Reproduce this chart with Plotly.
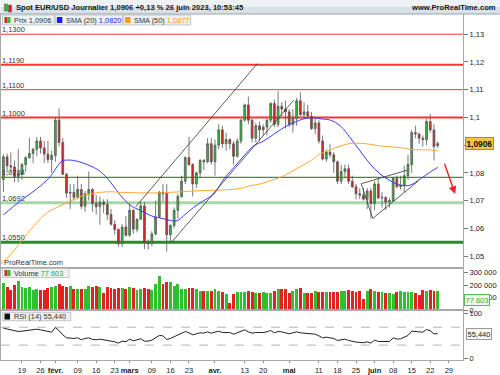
import pandas as pd
import plotly.graph_objects as go
from plotly.subplots import make_subplots

# ---------------- data ----------------
dates = [d.strftime('%Y-%m-%d') for d in pd.bdate_range('2023-01-12', '2023-06-26')]

opens = [1.0776,1.0858,1.0826,1.0821,1.0787,1.0795,1.0830,1.0855,1.0870,1.0885,1.0915,1.0890,1.0868,1.0848,
         1.0863,1.0990,1.0910,1.0795,1.0727,1.0730,1.0712,1.0740,1.0680,1.0725,1.0740,1.0690,1.0678,1.0694,
         1.0686,1.0650,1.0615,1.0596,1.0545,1.0605,1.0575,1.0665,1.0597,1.0633,1.0681,1.0548,1.0545,1.0580,
         1.0640,1.0730,1.0725,1.0577,1.0610,1.0665,1.0715,1.0770,1.0855,1.0830,1.0760,1.0800,1.0845,1.0840,
         1.0905,1.0840,1.0900,1.0955,1.0905,1.0920,1.0905,1.0860,1.0915,1.0990,1.1045,1.0990,1.0925,1.0970,
         1.0955,1.0965,1.0990,1.1050,1.0975,1.1040,1.1030,1.1020,1.0975,1.0995,1.1060,1.1010,1.1020,1.1005,
         1.0960,1.0980,1.0915,1.0850,1.0875,1.0865,1.0840,1.0770,1.0805,1.0815,1.0770,1.0750,1.0725,1.0720,
         1.0705,1.0735,1.0690,1.0760,1.0710,1.0712,1.0695,1.0700,1.0780,1.0750,1.0755,1.0790,1.0830,1.0945,
         1.0940,1.0925,1.0920,1.0985,1.0955,1.0898]
highs = [1.0867,1.0870,1.0874,1.0845,1.0887,1.0835,1.0860,1.0927,1.0890,1.0930,1.0930,1.0915,1.0915,1.0880,
         1.1000,1.1033,1.0925,1.0800,1.0760,1.0760,1.0790,1.0760,1.0735,1.0805,1.0745,1.0720,1.0715,1.0705,
         1.0705,1.0670,1.0630,1.0600,1.0615,1.0645,1.0690,1.0670,1.0635,1.0695,1.0695,1.0560,1.0590,1.0700,
         1.0735,1.0760,1.0760,1.0615,1.0675,1.0725,1.0790,1.0860,1.0930,1.0835,1.0805,1.0850,1.0850,1.0925,
         1.0925,1.0920,1.0975,1.0970,1.0945,1.0925,1.0915,1.0925,1.0995,1.1050,1.1075,1.0995,1.0980,1.0985,
         1.0975,1.0995,1.1055,1.1065,1.1095,1.1055,1.1060,1.1030,1.1030,1.1070,1.1090,1.1055,1.1045,1.1020,
         1.1000,1.0990,1.0935,1.0885,1.0905,1.0875,1.0845,1.0830,1.0830,1.0830,1.0790,1.0760,1.0745,1.0745,
         1.0745,1.0745,1.0770,1.0780,1.0730,1.0715,1.0710,1.0785,1.0790,1.0790,1.0825,1.0865,1.0955,1.0970,
         1.0945,1.0935,1.0995,1.1012,1.0975,1.0913]
lows = [1.0731,1.0800,1.0800,1.0766,1.0766,1.0775,1.0805,1.0850,1.0835,1.0860,1.0870,1.0835,1.0835,1.0800,
        1.0840,1.0895,1.0793,1.0710,1.0670,1.0700,1.0705,1.0670,1.0660,1.0700,1.0660,1.0650,1.0613,1.0655,
        1.0630,1.0610,1.0577,1.0535,1.0533,1.0570,1.0570,1.0580,1.0585,1.0630,1.0525,1.0524,1.0535,1.0575,
        1.0640,1.0695,1.0516,1.0550,1.0600,1.0635,1.0710,1.0760,1.0825,1.0715,1.0745,1.0785,1.0810,1.0835,
        1.0830,1.0790,1.0885,1.0890,1.0880,1.0885,1.0830,1.0855,1.0905,1.0985,1.0975,1.0910,1.0910,1.0915,
        1.0935,1.0935,1.0980,1.0965,1.0965,1.1005,1.0960,1.0965,1.0945,1.0970,1.1005,1.0995,1.0995,1.0955,
        1.0940,1.0905,1.0845,1.0840,1.0855,1.0800,1.0760,1.0760,1.0785,1.0760,1.0745,1.0705,1.0705,1.0700,
        1.0670,1.0635,1.0665,1.0705,1.0675,1.0665,1.0675,1.0695,1.0745,1.0740,1.0730,1.0775,1.0800,1.0925,
        1.0905,1.0895,1.0900,1.0945,1.0845,1.0890]
closes = [1.0858,1.0826,1.0821,1.0787,1.0795,1.0830,1.0855,1.0870,1.0885,1.0915,1.0890,1.0868,1.0848,1.0863,
          1.0990,1.0910,1.0795,1.0727,1.0730,1.0712,1.0740,1.0680,1.0725,1.0740,1.0690,1.0678,1.0694,1.0686,
          1.0650,1.0615,1.0596,1.0545,1.0605,1.0575,1.0665,1.0597,1.0633,1.0681,1.0548,1.0545,1.0580,1.0640,
          1.0730,1.0725,1.0577,1.0610,1.0665,1.0715,1.0770,1.0855,1.0830,1.0760,1.0800,1.0845,1.0840,1.0905,
          1.0840,1.0900,1.0955,1.0905,1.0920,1.0905,1.0860,1.0915,1.0990,1.1045,1.0990,1.0925,1.0970,1.0955,
          1.0965,1.0990,1.1050,1.0975,1.1040,1.1030,1.1020,1.0975,1.0995,1.1060,1.1010,1.1020,1.1005,1.0960,
          1.0980,1.0915,1.0850,1.0875,1.0865,1.0840,1.0770,1.0805,1.0815,1.0770,1.0750,1.0725,1.0720,1.0705,
          1.0735,1.0690,1.0760,1.0710,1.0712,1.0695,1.0700,1.0780,1.0750,1.0755,1.0790,1.0830,1.0945,1.0940,
          1.0925,1.0920,1.0985,1.0955,1.0895,1.0906]

volumes = [219500,192700,166000,209000,235500,192700,182000,187000,168600,174000,166000,166000,184700,187000,
           195000,211000,200000,187000,198000,174000,174000,174000,174000,195000,192700,195000,187000,141900,
           190000,184700,176700,184700,184700,174000,187000,179000,168600,171400,182000,176700,168600,214000,
           278300,214000,230000,230000,195000,214000,171400,176700,184700,182000,171400,160700,160700,155300,
           155300,174000,155300,152600,134000,61700,134000,147300,152600,147300,155300,152600,141900,141900,
           150000,141900,141900,155300,174000,174000,171400,141900,155300,176700,182000,144600,144600,144600,
           155300,147300,147300,147300,147300,147300,152600,158000,155300,166000,155300,147300,155300,93900,
           158000,171400,160700,150000,147300,139300,141900,136600,147300,155300,150000,147300,147300,139300,
           125900,166000,155300,166000,155300,155300,77603]

rsi = [67.8,66.3,64.1,61.9,60.4,61.1,62.6,63.3,64.8,65.6,64.1,61.9,59.6,58.9,69.3,62.6,53.0,46.3,45.6,44.8,
       46.3,41.9,44.8,46.3,42.6,41.9,43.3,41.9,40.4,38.9,37.4,34.4,38.9,37.4,43.3,39.6,41.1,44.1,38.9,38.9,
       41.1,45.6,51.5,50.7,42.6,44.8,48.5,52.2,55.9,60.4,57.4,53.0,55.2,57.4,56.7,59.6,56.7,58.9,61.1,58.1,
       58.9,58.1,54.4,57.4,61.1,64.1,59.6,56.7,58.1,57.4,58.1,59.6,62.6,57.4,60.4,59.6,58.1,55.2,57.4,59.6,
       57.4,56.7,55.9,53.7,54.4,50.7,46.3,47.8,47.0,44.8,40.4,42.6,43.3,40.4,38.1,36.7,35.9,35.2,37.4,34.4,
       41.1,38.1,38.1,37.4,38.1,46.3,43.3,44.1,47.8,51.5,61.1,61.1,59.6,58.9,64.8,61.9,55.2,55.44]

sma20_idx = [0,4.7,10.1,12.8,14.6,15.9,18.2,20.9,23.5,26.2,28.9,31.6,34.3,37,39.7,43.3,45.1,46.9,48.6,51.3,
             54,56.7,59.4,62.1,64.8,67.4,70.1,72.8,75.5,78.2,80.9,83.6,85.4,88.1,90.8,93.4,96.1,98.8,101.5,
             104.2,106.9,109.6,112.3,114.9,117]
sma20_val = [1.0649,1.0700,1.0754,1.0790,1.0825,1.0843,1.0846,1.0838,1.0825,1.0804,1.0766,1.0718,1.0682,1.0664,
             1.0646,1.0634,1.0628,1.0628,1.0646,1.0676,1.0700,1.0724,1.0778,1.0820,1.0861,1.0897,1.0915,1.0939,
             1.0963,1.0981,1.0995,1.0999,1.0995,1.0990,1.0969,1.0927,1.0879,1.0832,1.0796,1.0772,1.0756,1.0756,
             1.0778,1.0802,1.0820]
sma50_idx = [-0.65,2.5,4.7,8.3,11.9,15.5,18.2,20.9,23.5,26.2,28.9,31.6,37,42.4,47.7,53.1,58.5,63.9,66.6,69.2,
             71.9,74.6,77.3,80,82.7,85.4,88.1,90.8,93.4,96.1,98.8,101.5,104.2,106.9,109.6,112.3,114.9,117]
sma50_val = [1.0473,1.0513,1.0552,1.0610,1.0658,1.0682,1.0700,1.0716,1.0724,1.0730,1.0732,1.0730,1.0728,1.0728,
             1.0732,1.0736,1.0738,1.0744,1.0754,1.0760,1.0772,1.0784,1.0802,1.0823,1.0843,1.0869,1.0883,1.0897,
             1.0906,1.0907,1.0903,1.0897,1.0894,1.0891,1.0885,1.0883,1.0883,1.0879]

levels = [1.1300, 1.1190, 1.1100, 1.1000, 1.0784, 1.0692, 1.0550]
level_labels = ['1,1300', '1,1190', '1,1100', '1,1000', '1,0784', '1,0692', '1,0550']
level_colors = ['#ff3333', '#ff3333', '#ff3333', '#ff3333', '#2e9a2e', '#a6d8a6', '#2a8a2a']
level_widths = [1, 2, 1, 2, 1.3, 3, 3]

price_ticks = [1.05, 1.06, 1.07, 1.08, 1.09, 1.10, 1.11, 1.12, 1.13]
price_tick_text = ['1,05', '1,06', '1,07', '1,08', '1,09', '1,1', '1,11', '1,12', '1,13']
vol_ticks = [0, 100000, 200000, 300000]
vol_tick_text = ['0', '100 000', '200 000', '300 000']

tick_dates = ['2023-01-19', '2023-01-26', '2023-02-01', '2023-02-09', '2023-02-16', '2023-02-23',
              '2023-03-01', '2023-03-09', '2023-03-16', '2023-03-23', '2023-04-03', '2023-04-13',
              '2023-04-20', '2023-05-01', '2023-05-11', '2023-05-18', '2023-05-25', '2023-06-01',
              '2023-06-08', '2023-06-15', '2023-06-22', '2023-06-29']
tick_text = ['19', '26', '<b>févr.</b>', '09', '16', '23', '<b>mars</b>', '09', '16', '23', '<b>avr.</b>', '13',
             '20', '<b>mai</b>', '11', '18', '25', '<b>juin</b>', '08', '15', '22', '29']

# channel / wedge lines (bar index, price)
trendlines = [((35.6, 1.0677), (68.4, 1.1194)),
              ((45.5, 1.0553), (78.2, 1.1062)),
              ((96.4, 1.0761), (108.8, 1.0810)),
              ((96.4, 1.0761), (99.5, 1.0636)),
              ((99.5, 1.0636), (111.8, 1.0771))]
arrow_tail = (118.7, 1.0838)
arrow_head = (121.7, 1.0724)

# ---------------- helpers ----------------
W, H = 500, 375
ML, MR, MT, MB = 0, 37, 14, 13
PW, PH = W - ML - MR, H - MT - MB


def X(px):
    return (px - ML) / PW


def Y(py):
    return (H - MB - py) / PH


all_dates = list(pd.to_datetime(dates))


def date_index(d):
    t = pd.Timestamp(d)
    if t in all_dates:
        return all_dates.index(t)
    extra = len(pd.bdate_range(all_dates[-1], t)) - 1
    return len(dates) - 1 + extra


xi = list(range(len(dates)))
tickvals = [date_index(d) for d in tick_dates]

FONT = 'Liberation Sans'
GREEN, RED = '#2ec02e', '#e02222'

fig = make_subplots(rows=3, cols=1, shared_xaxes=True, vertical_spacing=0)

lbl_x = [-0.4] * len(levels)
fig.add_trace(go.Scatter(x=lbl_x, y=levels, mode='text', text=level_labels, textposition='top right',
                         textfont=dict(family=FONT, size=7.5, color='#333333'), hoverinfo='skip',
                         showlegend=False), row=1, col=1)

fig.add_trace(go.Candlestick(x=xi, open=opens, high=highs, low=lows, close=closes,
                             increasing=dict(line=dict(color='#555555', width=0.8), fillcolor=GREEN),
                             decreasing=dict(line=dict(color='#555555', width=0.8), fillcolor=RED),
                             whiskerwidth=0, showlegend=False), row=1, col=1)

fig.add_trace(go.Scatter(x=sma20_idx, y=sma20_val, mode='lines', line=dict(color='#3a3aff', width=1, shape='spline'),
                         showlegend=False, hoverinfo='skip'), row=1, col=1)
fig.add_trace(go.Scatter(x=sma50_idx, y=sma50_val, mode='lines', line=dict(color='#ffa733', width=1, shape='spline'),
                         showlegend=False, hoverinfo='skip'), row=1, col=1)

vol_colors = [GREEN if c >= o else RED for o, c in zip(opens, closes)]
fig.add_trace(go.Bar(x=xi, y=volumes, marker=dict(color=vol_colors, line=dict(width=0)), width=0.78,
                     showlegend=False), row=2, col=1)

fig.add_trace(go.Scatter(x=xi, y=rsi, mode='lines', line=dict(color='#222222', width=1), showlegend=False),
              row=3, col=1)

shapes = []
for lv, col, wd in zip(levels, level_colors, level_widths):
    shapes.append(dict(type='line', xref='x domain', yref='y', x0=0, x1=1, y0=lv, y1=lv,
                       line=dict(color=col, width=wd), layer='below'))
for (a, b) in trendlines:
    shapes.append(dict(type='line', xref='x', yref='y', x0=a[0], y0=a[1], x1=b[0], y1=b[1],
                       line=dict(color='#333333', width=0.8)))
for lv in (70, 30):
    shapes.append(dict(type='line', xref='x3 domain', yref='y3', x0=0, x1=1, y0=lv, y1=lv,
                       line=dict(color='#a0a0a0', width=0.8, dash='dash'), layer='below'))

shapes.append(dict(type='rect', xref='paper', yref='paper', x0=X(0), x1=X(W), y0=Y(7), y1=Y(0),
                   fillcolor='#eef2f5', line=dict(width=0)))
shapes.append(dict(type='rect', xref='paper', yref='paper', x0=X(0), x1=X(W), y0=Y(14), y1=Y(7),
                   fillcolor='#d9e0e7', line=dict(width=0)))
shapes.append(dict(type='line', xref='paper', yref='paper', x0=X(0), x1=X(W), y0=Y(14), y1=Y(14),
                   line=dict(color='#9aa3ab', width=1)))
shapes.append(dict(type='rect', xref='paper', yref='paper', x0=X(3.5), x1=X(6.5), y0=Y(11), y1=Y(4),
                   fillcolor=GREEN, line=dict(color='#444', width=0.5)))
shapes.append(dict(type='rect', xref='paper', yref='paper', x0=X(7.5), x1=X(10.5), y0=Y(12), y1=Y(5),
                   fillcolor=RED, line=dict(color='#444', width=0.5)))


def box(x0, x1, y0, y1, fill='#eef0f2', border='#b4bac0'):
    shapes.append(dict(type='rect', xref='paper', yref='paper', x0=X(x0), x1=X(x1), y0=Y(y1), y1=Y(y0),
                       fillcolor=fill, line=dict(color=border, width=0.8)))


def square(x0, x1, y0, y1, col):
    shapes.append(dict(type='rect', xref='paper', yref='paper', x0=X(x0), x1=X(x1), y0=Y(y1), y1=Y(y0),
                       fillcolor=col, line=dict(width=0)))


box(1.5, 53.3, 15, 25)
square(3.5, 6.5, 17, 23, RED)
square(6.5, 9.5, 17, 23, GREEN)
box(54.3, 121.7, 15, 25)
square(56, 61.5, 17, 23, '#1a1aff')
box(122.7, 190, 15, 25)
square(124.3, 129.8, 17, 23, '#ff9a1a')
box(1.5, 68.3, 270, 279)
square(3.5, 6.5, 271.5, 277.5, RED)
square(6.5, 9.5, 271.5, 277.5, GREEN)
box(1.5, 70, 314, 322.5)
square(3.5, 9, 315.3, 321.3, '#111111')

annotations = []


def text(px, py, s, size=7.5, color='#222222', bold=False, anchor='left'):
    annotations.append(dict(xref='paper', yref='paper', x=X(px), y=Y(py), text=('<b>%s</b>' % s) if bold else s,
                            showarrow=False, xanchor=anchor, yanchor='middle',
                            font=dict(family=FONT, size=size, color=color)))


text(13, 7.3, 'Spot EUR/USD Journalier 1,0906 +0,13 % 26 juin 2023, 10:53:45', size=7.6, color='#111', bold=True)
text(498.5, 7.3, 'www.ProRealTime.com', size=7.6, color='#111', bold=True, anchor='right')
text(11, 20.3, 'Prix 1,0906', size=7.4, color='#333')
text(63, 20.3, 'SMA (20) <span style="color:#2222ff">1,0820</span>', size=7.4, color='#333')
text(131.5, 20.3, 'SMA (50) <span style="color:#ff9900">1,0877</span>', size=7.4, color='#333')
text(11, 274.7, 'Volume <span style="color:#33aa33">77 603</span>', size=7.4, color='#333')
text(11, 318.2, 'RSI (14) 55,440', size=7.4, color='#333')
text(1.5, 264.3, 'ProRealTime.com', size=7.4, color='#333')

annotations.append(dict(xref='paper', yref='y', x=X(465.5), y=closes[-1], text='<b>1,0906</b>', showarrow=False,
                        xanchor='left', yanchor='middle', bgcolor='#f6c445', bordercolor='#b48a22', borderwidth=1,
                        borderpad=0.5, font=dict(family=FONT, size=8.3, color='#111')))
annotations.append(dict(xref='paper', yref='y2', x=X(464.5), y=volumes[-1], text='77 603', showarrow=False,
                        xanchor='left', yanchor='middle', bgcolor='#eefaee', bordercolor='#55bb55', borderwidth=1,
                        borderpad=0.5, font=dict(family=FONT, size=7.5, color='#33aa33')))
annotations.append(dict(xref='paper', yref='y3', x=X(466), y=rsi[-1], text='55,440', showarrow=False,
                        xanchor='left', yanchor='middle', bgcolor='#f6f6f6', bordercolor='#9a9a9a', borderwidth=1,
                        borderpad=0.5, font=dict(family=FONT, size=7.5, color='#222')))
annotations.append(dict(xref='x', yref='y', x=arrow_head[0], y=arrow_head[1], ax=arrow_tail[0], ay=arrow_tail[1],
                        axref='x', ayref='y', text='', showarrow=True, arrowhead=2, arrowsize=1.1,
                        arrowwidth=1.4, arrowcolor='#ee2222'))

tickfont = dict(family=FONT, size=7.5, color='#222222')
xr = [-0.645, 123.82]
axis_common = dict(showline=True, linecolor='#a8a8a8', linewidth=1, mirror=True, showgrid=False, zeroline=False)

fig.update_layout(
    width=W, height=H, margin=dict(l=ML, r=MR, t=MT, b=MB),
    paper_bgcolor='white', plot_bgcolor='white', showlegend=False, bargap=0,
    shapes=shapes, annotations=annotations,
    xaxis=dict(range=xr, showticklabels=False, rangeslider=dict(visible=False), **axis_common),
    xaxis2=dict(range=xr, showticklabels=False, **axis_common),
    xaxis3=dict(range=xr, tickmode='array', tickvals=tickvals, ticktext=tick_text, ticks='outside',
                ticklen=2, tickcolor='#888', tickangle=0, ticklabelstandoff=1,
                tickfont=tickfont, **axis_common),
    yaxis=dict(domain=[Y(269), 1], range=[1.04588, 1.13728], side='right', tickmode='array',
               tickvals=price_ticks, ticktext=price_tick_text, ticks='outside', ticklen=4,
               tickcolor='#777', tickfont=tickfont, **axis_common),
    yaxis2=dict(domain=[Y(312), Y(269)], range=[-2000, 342000], side='right', tickmode='array',
                tickvals=vol_ticks, ticktext=vol_tick_text, ticks='outside', ticklen=4,
                tickcolor='#777', tickfont=tickfont, **axis_common),
    yaxis3=dict(domain=[0, Y(312)], range=[-3.3, 107.8], side='right', tickmode='array',
                tickvals=[0, 100], ticktext=['0', '100'], ticks='outside', ticklen=4,
                tickcolor='#777', tickfont=tickfont, **axis_common),
)

fig.write_html('out.html', config={'displayModeBar': False},
               post_script="document.body.style.margin='0';document.body.style.padding='0';")
